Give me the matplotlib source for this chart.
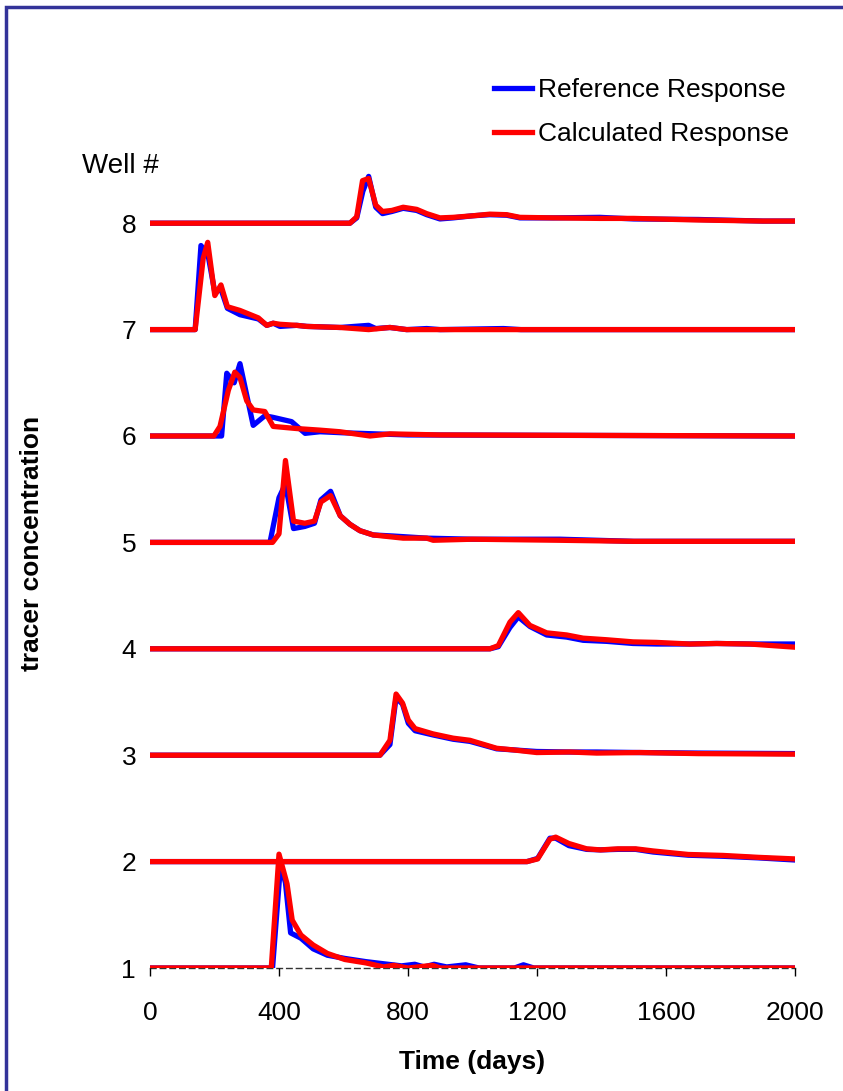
import numpy as np
import matplotlib
matplotlib.use("Agg")
import matplotlib.pyplot as plt
from matplotlib.patches import Rectangle

plt.rcParams['font.family'] = ['Liberation Sans', 'DejaVu Sans']

# tracer breakthrough per well: time (days) and concentration above the well baseline
wells = [1, 2, 3, 4, 5, 6, 7, 8]

ref_t = {
    8: [0, 620, 641, 660, 678, 700, 721, 750, 785, 827, 858, 899, 940, 1002, 1054, 1106, 1147, 1250, 1395, 1500, 1700, 1900, 2000],
    7: [0, 140, 158, 180, 201, 220, 240, 279, 336, 362, 382, 403, 455, 486, 589, 678, 700, 744, 796, 858, 900, 1096, 1150, 2000],
    6: [0, 222, 238, 261, 279, 320, 356, 382, 439, 481, 527, 600, 700, 800, 2000],
    5: [0, 372, 400, 420, 445, 480, 510, 530, 560, 590, 620, 651, 692, 754, 858, 1000, 1271, 1500, 2000],
    4: [0, 1054, 1080, 1116, 1142, 1178, 1230, 1292, 1343, 1416, 1498, 1571, 1674, 1757, 1860, 2000],
    3: [0, 713, 744, 763, 783, 801, 822, 878, 940, 992, 1075, 1126, 1199, 1302, 1385, 1519, 1700, 2000],
    2: [0, 1169, 1202, 1240, 1258, 1299, 1354, 1397, 1451, 1506, 1560, 1669, 1777, 1886, 2000],
    1: [0, 380, 405, 420, 436, 468, 506, 550, 604, 669, 724, 780, 821, 850, 881, 920, 979, 1020, 1130, 1158, 1190, 2000],
}
ref_c = {
    8: [0, 0, 0.05, 0.30, 0.44, 0.15, 0.09, 0.11, 0.14, 0.12, 0.08, 0.04, 0.05, 0.07, 0.08, 0.075, 0.05, 0.05, 0.055, 0.04, 0.035, 0.02, 0.02],
    7: [0, 0, 0.79, 0.70, 0.35, 0.38, 0.20, 0.14, 0.10, 0.04, 0.06, 0.03, 0.04, 0.03, 0.02, 0.04, 0.01, 0.02, 0.0, 0.01, 0.0, 0.01, 0.0, 0.0],
    6: [0, 0, 0.59, 0.50, 0.68, 0.10, 0.19, 0.175, 0.135, 0.025, 0.04, 0.03, 0.02, 0.01, 0.0],
    5: [0, 0, 0.42, 0.55, 0.13, 0.15, 0.18, 0.40, 0.48, 0.25, 0.17, 0.11, 0.07, 0.06, 0.04, 0.03, 0.03, 0.01, 0.01],
    4: [0, 0, 0.02, 0.20, 0.30, 0.21, 0.13, 0.11, 0.08, 0.07, 0.05, 0.045, 0.045, 0.05, 0.045, 0.045],
    3: [0, 0, 0.10, 0.54, 0.48, 0.30, 0.23, 0.19, 0.15, 0.13, 0.06, 0.05, 0.035, 0.03, 0.03, 0.025, 0.02, 0.015],
    2: [0, 0, 0.03, 0.22, 0.22, 0.15, 0.115, 0.11, 0.115, 0.115, 0.09, 0.06, 0.05, 0.035, 0.015],
    1: [0, 0, 0.98, 0.80, 0.33, 0.28, 0.18, 0.12, 0.09, 0.06, 0.04, 0.02, 0.035, 0.01, 0.035, 0.01, 0.03, 0.0, 0.0, 0.03, 0.0, 0.0],
}

calc_t = {
    8: [0, 620, 641, 659, 678, 700, 721, 750, 785, 827, 858, 899, 940, 1002, 1054, 1106, 1147, 1250, 1395, 1500, 1700, 1900, 2000],
    7: [0, 140, 165, 179, 201, 220, 240, 279, 336, 362, 382, 403, 455, 486, 589, 678, 744, 796, 2000],
    6: [0, 198, 217, 243, 263, 279, 300, 320, 356, 382, 455, 527, 589, 682, 744, 899, 2000],
    5: [0, 380, 400, 420, 445, 480, 510, 530, 560, 590, 620, 651, 692, 754, 785, 858, 878, 1000, 1271, 1500, 2000],
    4: [0, 1054, 1080, 1116, 1142, 1178, 1230, 1292, 1343, 1416, 1498, 1571, 1674, 1757, 1860, 2000],
    3: [0, 713, 744, 763, 783, 801, 822, 878, 940, 992, 1075, 1126, 1199, 1302, 1385, 1519, 1700, 2000],
    2: [0, 1169, 1202, 1240, 1258, 1299, 1354, 1397, 1451, 1506, 1560, 1669, 1777, 1886, 2000],
    1: [0, 376, 400, 425, 441, 468, 506, 550, 604, 669, 724, 756, 800, 876, 900, 2000],
}
calc_c = {
    8: [0, 0, 0.06, 0.40, 0.42, 0.17, 0.11, 0.12, 0.15, 0.13, 0.09, 0.05, 0.055, 0.07, 0.085, 0.08, 0.055, 0.05, 0.045, 0.045, 0.03, 0.02, 0.02],
    7: [0, 0, 0.67, 0.82, 0.32, 0.42, 0.215, 0.18, 0.11, 0.04, 0.06, 0.05, 0.04, 0.03, 0.02, 0.0, 0.02, 0.0, 0.0],
    6: [0, 0, 0.09, 0.43, 0.60, 0.55, 0.33, 0.245, 0.23, 0.09, 0.07, 0.055, 0.04, 0.0, 0.02, 0.01, 0.0],
    5: [0, 0, 0.08, 0.77, 0.20, 0.18, 0.20, 0.38, 0.44, 0.25, 0.17, 0.11, 0.07, 0.05, 0.04, 0.04, 0.02, 0.03, 0.02, 0.01, 0.01],
    4: [0, 0, 0.03, 0.25, 0.34, 0.22, 0.15, 0.13, 0.10, 0.085, 0.065, 0.06, 0.045, 0.05, 0.045, 0.015],
    3: [0, 0, 0.14, 0.575, 0.49, 0.33, 0.25, 0.20, 0.16, 0.14, 0.065, 0.05, 0.025, 0.03, 0.02, 0.025, 0.015, 0.01],
    2: [0, 0, 0.025, 0.21, 0.23, 0.17, 0.12, 0.11, 0.12, 0.12, 0.10, 0.067, 0.058, 0.04, 0.025],
    1: [0, 0, 1.07, 0.79, 0.45, 0.31, 0.216, 0.137, 0.08, 0.048, 0.01, 0.025, 0.0, 0.025, 0.0, 0.0],
}

x_ticks = [0, 400, 800, 1200, 1600, 2000]

W, H = 843, 1091
fig = plt.figure(figsize=(W / 100, H / 100), dpi=100)
ax = fig.add_axes([150 / W, (H - 968) / H, 645 / W, (968 - 10) / H])

for i, w in enumerate(wells):
    ax.plot(ref_t[w], np.array(ref_c[w]) + w, color='#0000FF', lw=3.8,
            solid_joinstyle='round', label='Reference Response' if i == 0 else None, zorder=3)
for i, w in enumerate(wells):
    ax.plot(calc_t[w], np.array(calc_c[w]) + w, color='#FF0000', lw=3.8,
            solid_joinstyle='round', label='Calculated Response' if i == 0 else None, zorder=4)

ax.set_xlim(0, 2000)
ax.set_ylim(1, 1 + (968 - 10) / 106.4)
ax.set_xticks(x_ticks)
ax.set_yticks(wells)
ax.tick_params(axis='x', length=6, width=1, direction='out', pad=18, labelsize=19)
ax.tick_params(axis='y', length=0, pad=10, labelsize=19)
for s in ['top', 'right', 'left']:
    ax.spines[s].set_visible(False)
ax.spines['bottom'].set_linestyle((0, (4, 3)))
ax.spines['bottom'].set_color('#333333')
ax.spines['bottom'].set_linewidth(1)
ax.spines['bottom'].set_zorder(1)
ax.set_facecolor('none')

ax.set_xlabel('Time (days)', fontsize=19, fontweight='bold', labelpad=18)
fig.text(32 / W, 1 - 543 / H, 'tracer concentration', rotation=90, fontsize=19,
         fontweight='bold', ha='center', va='center')
fig.text(82 / W, 1 - 166 / H, 'Well #', fontsize=20, ha='left', va='center')

ax.legend(loc='upper left', bbox_to_anchor=(494 / W, 1 - 78 / H), bbox_transform=fig.transFigure,
          frameon=False, fontsize=19, handlelength=1.45, handletextpad=0.2,
          labelspacing=0.75, borderpad=0, borderaxespad=0)

fig.patches.append(Rectangle((6 / W, -0.05), 1.2, 1.05 - 7 / H, transform=fig.transFigure,
                             fill=False, edgecolor='#333399', lw=2.5))

fig.savefig('out.png', dpi=100, facecolor='white')
